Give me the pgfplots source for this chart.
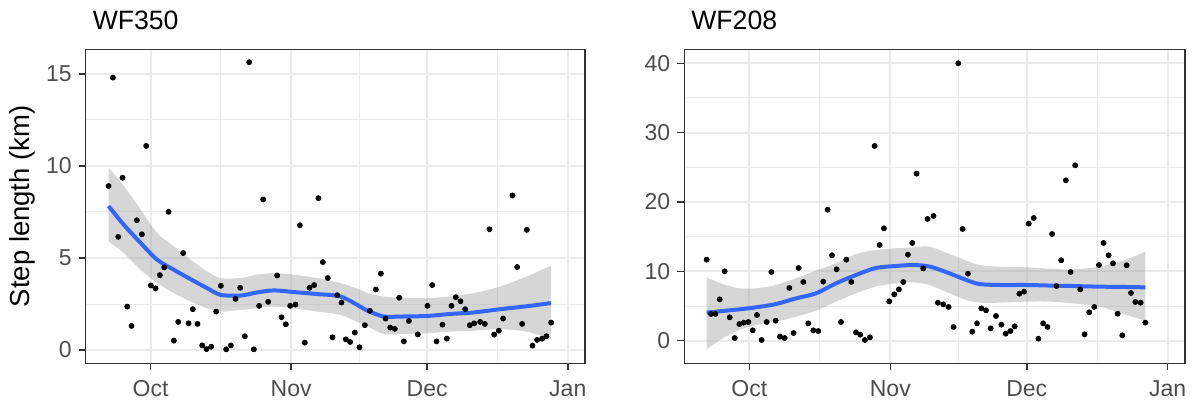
\documentclass[border=0pt]{standalone}
\usepackage{fontspec}
\setmainfont{Liberation Sans}
\usepackage{pgfplots}
\usepackage{pgfplotstable}
\pgfplotsset{compat=1.18}
\usepgfplotslibrary{fillbetween}

\definecolor{grey92}{HTML}{EBEBEB}
\definecolor{grey20}{HTML}{333333}
\definecolor{grey30}{HTML}{4D4D4D}
\definecolor{grey60}{HTML}{999999}
\definecolor{ggblue}{HTML}{3366FF}

% x = days since 1 Oct
\pgfplotstableread{
day len
-9.26 8.91
-8.30 14.80
-7.13 6.15
-6.17 9.36
-5.14 2.36
-4.19 1.31
-3.01 7.05
-1.91 6.29
-0.96 11.09
0.07 3.51
1.10 3.35
2.06 4.07
3.01 4.49
3.97 7.51
5.14 0.51
6.10 1.53
7.20 5.27
8.38 1.45
9.33 2.22
10.36 1.42
11.39 0.25
12.34 0.05
13.37 0.18
14.47 2.09
15.50 3.49
16.68 0.04
17.71 0.25
18.74 2.78
19.76 3.38
20.79 0.75
21.75 15.64
22.78 0.04
23.95 2.40
24.83 8.18
25.94 2.62
27.92 4.05
28.88 1.78
29.83 1.40
30.79 2.40
31.96 2.47
32.92 6.78
34.02 0.40
35.05 3.38
36.08 3.53
37.03 8.25
37.99 4.78
39.09 3.91
40.12 0.69
41.15 2.98
42.10 2.58
43.06 0.58
44.01 0.44
45.04 0.95
46.07 0.15
47.26 1.35
48.36 2.13
49.68 3.29
50.79 4.15
51.82 1.71
52.84 1.22
53.87 1.15
54.83 2.84
55.86 0.47
56.96 1.58
58.94 0.85
61.07 2.40
62.10 3.53
63.06 0.47
64.38 1.38
65.34 0.62
66.36 2.40
67.32 2.87
68.35 2.65
69.38 2.22
70.40 1.35
71.36 1.45
72.68 1.53
73.71 1.42
74.74 6.56
75.77 0.84
76.80 1.05
77.75 1.71
79.81 8.40
80.84 4.51
81.94 1.42
82.97 6.53
84.22 0.24
85.25 0.55
86.35 0.62
87.30 0.75
88.33 1.49
}\ptsA

\pgfplotstableread{
day lo fit hi
-9.26 5.91 7.82 9.91
-5.88 5.27 6.80 8.91
-2.20 4.36 5.82 7.64
1.47 3.64 4.90 6.36
5.14 3.09 4.36 5.64
8.82 2.64 3.85 4.91
12.49 2.27 3.36 4.27
15.43 2.09 3.00 3.91
19.84 2.18 2.96 3.91
23.51 2.27 3.13 4.09
27.19 2.36 3.24 4.18
31.59 2.27 3.15 4.09
36.74 2.09 3.04 3.91
41.88 1.91 2.91 3.64
46.29 1.45 2.35 3.27
47.70 1.30 2.15 3.10
51.37 0.87 1.82 2.91
55.05 0.87 1.82 2.85
60.93 0.91 1.85 2.82
66.07 1.00 1.96 2.91
71.21 1.05 2.04 3.09
77.09 1.13 2.22 3.45
82.97 1.00 2.38 4.00
88.26 0.58 2.55 4.58
}\fitA

\pgfplotstableread{
day len
-9.38 11.68
-8.42 3.85
-7.47 3.85
-6.52 5.96
-5.42 10.00
-4.32 3.37
-3.22 0.38
-2.20 2.40
-1.25 2.60
-0.22 2.69
0.73 1.49
1.68 3.70
2.71 0.10
3.81 2.69
4.84 9.90
5.79 2.88
6.74 0.58
7.77 0.38
8.79 7.60
9.74 1.10
10.84 10.48
11.87 8.46
12.97 2.50
14.07 1.49
15.16 1.39
16.26 8.51
17.22 18.89
18.17 12.31
19.19 10.29
20.15 2.69
21.32 11.68
22.42 8.46
23.44 1.20
24.40 0.87
25.42 0.10
26.52 0.48
27.55 28.08
28.64 13.80
29.60 16.20
30.77 5.67
31.87 6.68
32.89 7.40
33.85 8.46
34.87 12.40
35.82 14.09
36.78 24.09
38.24 10.43
39.19 17.55
40.50 17.98
41.46 5.48
42.63 5.24
43.81 4.86
44.91 1.97
45.94 40.00
46.89 16.11
48.07 9.66
49.02 1.30
50.05 2.50
51.01 4.66
52.04 4.38
53.06 1.78
54.24 3.56
55.42 2.31
56.37 1.01
57.40 1.39
58.35 2.07
59.38 6.78
60.41 7.07
61.44 16.88
62.54 17.69
63.57 0.29
64.60 2.50
65.56 1.97
66.58 15.38
67.54 7.88
68.57 11.59
69.60 23.13
70.63 9.90
71.65 25.29
72.76 7.40
73.71 0.91
74.74 4.09
75.84 4.86
76.87 10.91
77.90 14.09
79.00 12.31
79.96 11.15
80.99 3.89
82.01 0.77
82.97 10.87
83.92 6.88
84.88 5.58
86.05 5.48
87.08 2.60
}\ptsB

\pgfplotstableread{
day lo fit hi
-9.38 -1.25 4.04 9.13
-5.86 0.34 4.28 8.17
-2.20 1.54 4.52 7.55
1.47 2.26 4.81 7.55
5.86 2.74 5.29 8.03
10.26 3.46 6.10 8.99
14.65 4.33 6.83 10.10
19.05 5.63 8.27 11.15
23.44 6.83 9.47 12.50
27.80 7.79 10.48 13.08
32.20 8.27 10.77 13.32
35.90 8.41 10.91 13.46
39.60 8.03 10.70 13.56
44.00 6.83 9.71 12.50
47.70 5.87 8.75 11.54
50.60 5.48 8.17 10.91
55.05 5.48 8.03 10.67
60.93 5.63 8.03 10.58
66.07 5.63 7.95 10.38
71.21 5.38 7.88 10.29
77.09 4.90 7.79 10.67
82.97 3.70 7.74 11.73
87.08 2.88 7.69 12.84
}\fitB

\pgfplotsset{
  ggpanel/.style={
    scale only axis, height=157pt,
    anchor=south west,
    xmin=-14.3, xmax=95.8,
    xtick={0,31,61,92}, xticklabels={Oct,Nov,Dec,Jan},
    minor xtick={15.5,46,76.5},
    grid=both,
    major grid style={grey92, line width=1pt},
    minor grid style={grey92, line width=0.5pt},
    tick align=outside, tick pos=left,
    major tick length=3.5pt, minor tick length=0pt,
    major tick style={grey20, line width=0.75pt},
    axis line style={grey20, line width=0.75pt},
    tick label style={font=\fontsize{11.5}{13}\selectfont, text=grey30},
    xticklabel style={yshift=-1.5pt},
    /pgf/number format/assume math mode=true,
    every axis title/.style={at={(axis description cs:0,1)}, anchor=base west,
      yshift=10pt, font=\fontsize{13.3}{15}\selectfont},
  },
}

\begin{document}
\begin{tikzpicture}
\path (0,0) rectangle (597.5pt,201.5pt);

\begin{axis}[ggpanel, at={(42.85pt,19.85pt)}, width=249.65pt,
  title={WF350},
  ymin=-0.72, ymax=16.34,
  ytick={0,5,10,15}, minor ytick={2.5,7.5,12.5},
  ylabel={Step length (km)},
  every axis y label/.style={at={(axis description cs:-0.1276,0.5)}, rotate=90,
    anchor=center, font=\fontsize{13.75}{15}\selectfont},
]
\addplot[only marks, mark=*, mark size=1.25pt, black] table[x=day, y=len]{\ptsA};
\addplot[name path=upA, draw=none, smooth] table[x=day, y=hi]{\fitA};
\addplot[name path=loA, draw=none, smooth] table[x=day, y=lo]{\fitA};
\addplot[grey60, fill opacity=0.4, draw=none] fill between[of=upA and loA];
\addplot[ggblue, line width=2pt, smooth] table[x=day, y=fit]{\fitA};
\end{axis}

\begin{axis}[ggpanel, at={(342.15pt,19.85pt)}, width=250.35pt,
  title={WF208},
  ymin=-3.26, ymax=42.02,
  ytick={0,10,20,30,40}, minor ytick={5,15,25,35},
]
\addplot[only marks, mark=*, mark size=1.25pt, black] table[x=day, y=len]{\ptsB};
\addplot[name path=upB, draw=none, smooth] table[x=day, y=hi]{\fitB};
\addplot[name path=loB, draw=none, smooth] table[x=day, y=lo]{\fitB};
\addplot[grey60, fill opacity=0.4, draw=none] fill between[of=upB and loB];
\addplot[ggblue, line width=2pt, smooth] table[x=day, y=fit]{\fitB};
\end{axis}
\end{tikzpicture}
\end{document}
